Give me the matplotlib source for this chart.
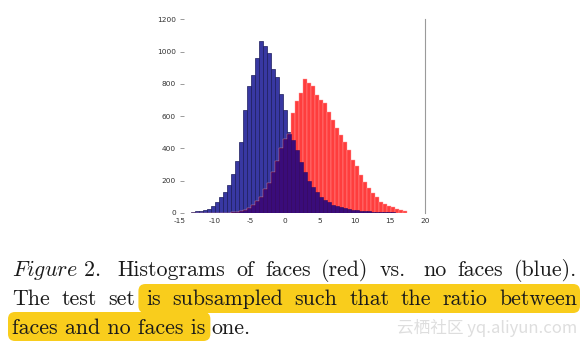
import numpy as np
import matplotlib
matplotlib.use("Agg")
import matplotlib.pyplot as plt
from matplotlib.patches import FancyBboxPatch
from matplotlib.transforms import IdentityTransform

# histogram bins shared by both classes
bin_start = -13.4
bin_width = 0.57

# counts per bin
no_faces = [5, 8, 12, 18, 25, 40, 65, 95, 130, 172,
            240, 320, 440, 638, 790, 855, 960, 1066, 1035, 995,
            890, 840, 735, 640, 500, 450, 390, 315, 250, 200,
            160, 127, 100, 80, 65, 50, 40, 33, 27, 22,
            18, 15, 12, 10, 8, 6, 5, 4, 3, 2,
            2, 1, 1, 0]
faces = [0, 0, 0, 0, 0, 0, 0, 0, 0, 0,
         3, 5, 8, 15, 28, 45, 70, 100, 150, 185,
         250, 320, 400, 460, 490, 620, 693, 743, 828, 808,
         790, 731, 700, 680, 625, 575, 525, 483, 441, 390,
         327, 290, 234, 193, 153, 122, 99, 68, 55, 42,
         33, 25, 15, 8]

x_ticks = [-15, -10, -5, 0, 5, 10, 15, 20]
y_ticks = [0, 200, 400, 600, 800, 1000, 1200]

caption_1 = [("Figure 2.", "it"), ("Histograms", "rm"), ("of", "rm"), ("faces", "rm"),
             ("(red)", "rm"), ("vs.", "rm"), ("no", "rm"), ("faces", "rm"), ("(blue).", "rm")]
caption_2 = ["The", "test", "set", "is", "subsampled", "such", "that", "the", "ratio", "between"]
caption_3 = ["faces and no faces is", "one."]
watermark = "云栖社区 yq.aliyun.com"

W, H = 587, 343
plt.rcParams["mathtext.fontset"] = "cm"
fig = plt.figure(figsize=(W / 100, H / 100), dpi=100)
fig.patch.set_facecolor("white")

ax = fig.add_axes([180 / W, 1 - 212.7 / H, 245 / W, 193.2 / H])
edges = bin_start + bin_width * np.arange(len(faces))
blue = np.array(no_faces)
red = np.array(faces)
ax.bar(edges, blue, bin_width, align="edge", color="#3838a2", edgecolor="#1c1c5c", linewidth=0.5)
ax.bar(edges, red, bin_width, align="edge", color="#ff3d3d", edgecolor="#ff9a9a", linewidth=0.3)
ax.bar(edges, np.minimum(blue, red), bin_width, align="edge", color="#3a0c7a",
       edgecolor="#2a0862", linewidth=0.4)

ax.set_xlim(-15, 20)
ax.set_ylim(0, 1200)
ax.set_xticks(x_ticks)
ax.set_yticks(y_ticks)
ax.set_xticklabels([str(v) for v in x_ticks])
ax.set_yticklabels([str(v) for v in y_ticks])
for s in ["top", "left", "bottom"]:
    ax.spines[s].set_visible(False)
ax.spines["right"].set_color("#9a9a9a")
ax.spines["right"].set_linewidth(0.8)
ax.tick_params(axis="y", direction="in", length=3, width=0.6, color="#8a8a8a",
               labelsize=5.3, labelcolor="#333333", pad=3)
ax.tick_params(axis="x", length=0, labelsize=5.3, labelcolor="#333333", pad=4)

# caption, drawn word by word so the lines can be justified like the paper
fs = 15.8
fig.canvas.draw()
renderer = fig.canvas.get_renderer()


def word(s, x, y, style="rm"):
    if style == "it":
        t = fig.text(x, H - y, r"$\mathit{" + s.replace(" ", r"\ ") + "}$", fontsize=fs,
                     color="#1a1a1a", transform=IdentityTransform(), va="baseline", zorder=3)
    else:
        t = fig.text(x, H - y, s, fontsize=fs, family=["cmr10"], color="#1a1a1a",
                     transform=IdentityTransform(), va="baseline", zorder=3)
    return t


def justify(items, y, x0=12, x1=577, wide=()):
    texts = [word(s, 0, y, st) for s, st in items]
    widths = [t.get_window_extent(renderer).width for t in texts]
    weights = [1.6 if i in wide else 1.0 for i in range(len(items) - 1)]
    gap = (x1 - x0 - sum(widths)) / sum(weights)
    x = x0
    boxes = []
    for i, t in enumerate(texts):
        t.set_x(x)
        boxes.append((x, x + widths[i]))
        if i < len(weights):
            x += widths[i] + gap * weights[i]
    return boxes


justify(caption_1, 276, wide=(0, 5))
b2 = justify([(w, "rm") for w in caption_2], 305)
t3a = word(caption_3[0], 12, 334)
w3 = t3a.get_window_extent(renderer).width
word(caption_3[1], 12 + w3 + 6, 334)

hl = "#f9cd1c"
fig.patches.append(FancyBboxPatch((b2[3][0] - 8, H - 313), 580 - b2[3][0] + 8, 29,
                                  boxstyle="round,pad=0,rounding_size=7", facecolor=hl,
                                  edgecolor="none", transform=IdentityTransform(), zorder=1))
fig.patches.append(FancyBboxPatch((8, H - 341), w3 + 9, 29,
                                  boxstyle="round,pad=0,rounding_size=7", facecolor=hl,
                                  edgecolor="none", transform=IdentityTransform(), zorder=1))

fig.text(577, H - 333, watermark, fontsize=12, ha="right", va="baseline", color="#dedede",
         family=["Noto Sans CJK SC", "DejaVu Sans"], transform=IdentityTransform(), zorder=4)

fig.savefig("out.png", dpi=100)
